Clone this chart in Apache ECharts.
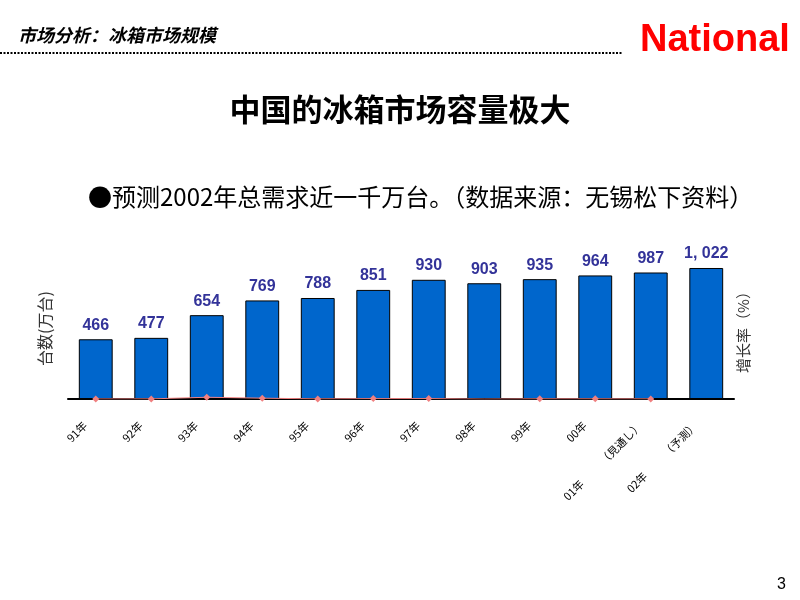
<!DOCTYPE html>
<html>
<head>
<meta charset="utf-8">
<script src="https://cdn.jsdelivr.net/npm/echarts@6/dist/echarts.min.js"></script>
<style>html,body{margin:0;padding:0;background:#fff;}#c{width:800px;height:600px;}</style>
</head>
<body>
<div id="c"></div>
<script>
var categories = ['91年','92年','93年','94年','95年','96年','97年','98年','99年','00年','01年　　　（見通し）','02年　　　（予測）'];
var units = [466, 477, 654, 769, 788, 851, 930, 903, 935, 964, 987, 1022];
var growth = [0, 2.4, 37.1, 17.6, 2.5, 8.0, 9.3, -2.9, 3.5, 3.1, 2.4, null];

var chart = echarts.init(document.getElementById('c'));
chart.setOption({
  animation: false,
  backgroundColor: '#fff',
  grid: { left: 68, right: 66, top: 258, bottom: 201 },
  xAxis: {
    type: 'category',
    data: categories,
    axisLine: { lineStyle: { color: '#000', width: 2 } },
    axisTick: { inside: true, length: 4, lineStyle: { color: '#000' } },
    axisLabel: { rotate: 45, fontSize: 11, color: '#000', margin: 14, interval: 0, padding: [0, 15, 0, 0], fontFamily: 'Noto Sans CJK JP' }
  },
  yAxis: [{
    type: 'value', min: 0, max: 1100,
    show: true,
    axisLine: { show: false }, axisTick: { show: false }, axisLabel: { show: false }, splitLine: { show: false },
    name: '台数(万台)', nameLocation: 'middle', nameRotate: 90, nameGap: 15,
    nameTextStyle: { fontSize: 16, color: '#333', fontFamily: 'Noto Sans CJK JP' }
  }, {
    type: 'value', min: 0, max: 3000, position: 'right',
    axisLine: { show: false }, axisTick: { show: false }, axisLabel: { show: false }, splitLine: { show: false },
    name: '增长率（%）', nameLocation: 'middle', nameRotate: 90, nameGap: 2,
    nameTextStyle: { fontSize: 15, color: '#333', fontFamily: 'Noto Sans CJK SC' }
  }],
  series: [{
    type: 'bar',
    data: units,
    barCategoryGap: '39%',
    itemStyle: { color: '#0066CC', borderColor: '#000', borderWidth: 1 },
    label: {
      show: true, position: 'top', distance: 6,
      color: '#333399', fontSize: 16, fontWeight: 'bold', fontFamily: 'Liberation Sans',
      formatter: function (p) {
        var v = p.value;
        return v >= 1000 ? Math.floor(v / 1000) + ', ' + String(v % 1000).padStart(3, '0') : String(v);
      }
    }
  }, {
    type: 'line',
    yAxisIndex: 1,
    data: growth,
    symbol: 'diamond', symbolSize: 7,
    lineStyle: { color: '#F08080', width: 1 },
    itemStyle: { color: '#F08080' }
  }],
  graphic: [
    { type: 'text', left: 18, top: 26, style: { text: '市场分析：冰箱市场规模', font: 'italic bold 18px "Noto Sans CJK SC"', fill: '#000' } },
    { type: 'line', shape: { x1: 0, y1: 53, x2: 622, y2: 53 }, style: { stroke: '#000', lineWidth: 2, lineDash: [2, 1.5] } },
    { type: 'text', left: 640, top: 22, style: { text: 'National', font: 'bold 38px "Liberation Sans"', fill: '#FF0000' } },
    { type: 'text', left: 'center', top: 94, style: { text: '中国的冰箱市场容量极大', font: 'bold 31px "Noto Sans CJK SC"', fill: '#000' } },
    { type: 'text', left: 88, top: 185, style: { text: '●预测2002年总需求近一千万台。（数据来源：无锡松下资料）', font: '24px "Noto Sans CJK SC"', fill: '#000' } },
    { type: 'text', left: 777, top: 577, style: { text: '3', font: '16px "Liberation Sans"', fill: '#000' } }
  ]
});
</script>
</body>
</html>
